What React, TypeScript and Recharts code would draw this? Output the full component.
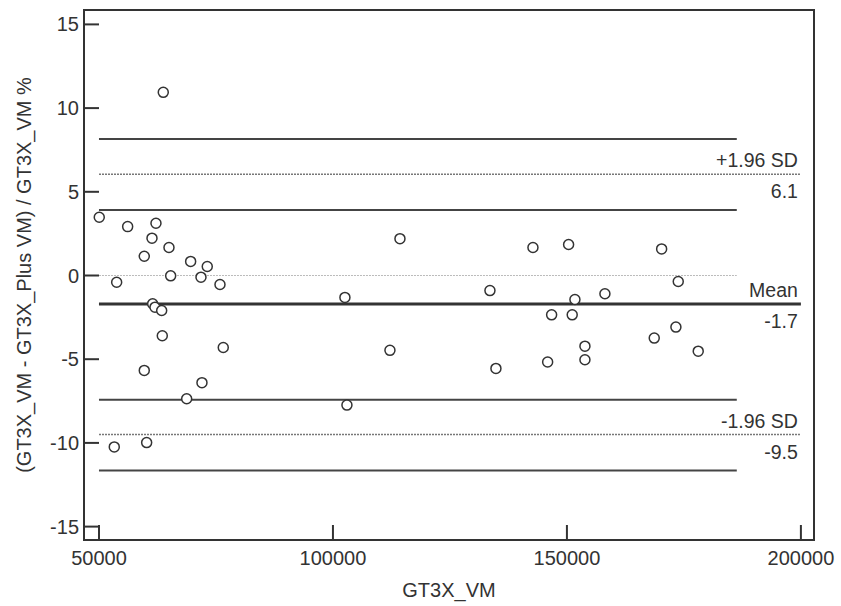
import React from 'react';
import { ScatterChart, Scatter, XAxis, YAxis, ReferenceLine, ReferenceArea } from 'recharts';

// mean of the two devices (GT3X_VM) vs. percent difference
const gt3xVm = [
  50060, 53780, 56130, 63740, 62180, 61330, 59680, 64960, 65320, 69590, 71800,
  73140, 75860, 61470, 61970, 63400, 63530, 76560, 59680, 72010, 68740, 53270,
  60190, 102560, 102990, 114320, 112180, 133550, 134830, 142740, 150360, 151710,
  146730, 151130, 153850, 153850, 145880, 158120, 170240, 173790, 168660, 173290,
  178060,
];
const pctDiff = [
  3.48, -0.4, 2.92, 10.94, 3.12, 2.23, 1.15, 1.67, -0.02, 0.84, -0.1, 0.54, -0.54,
  -1.69, -1.89, -2.09, -3.6, -4.3, -5.67, -6.4, -7.36, -10.24, -9.98, -1.31, -7.74,
  2.2, -4.47, -0.9, -5.55, 1.67, 1.85, -1.43, -2.35, -2.35, -4.22, -5.03, -5.17,
  -1.09, 1.59, -0.36, -3.74, -3.08, -4.52,
];

// limits of agreement and their confidence bands
const limitNames = ['+1.96 SD', 'Mean', '-1.96 SD'];
const limitValues = [6.05, -1.7, -9.5];
const limitLabels = ['6.1', '-1.7', '-9.5'];
const ciValues = [8.16, 3.92, -7.42, -11.65];

const xTicks = [50000, 100000, 150000, 200000];
const yTicks = [-15, -10, -5, 0, 5, 10, 15];
const xDomain = [46800, 202800];
const yDomain = [-15.8, 15.86];
const lineStart = 50000;
const lineEnd = 200000;
const ciEnd = 186300;

const points = gt3xVm.map((x, i) => ({ x, y: pctDiff[i] }));

const FONT = '"Liberation Sans", Arial, sans-serif';
const INK = '#333';

const pairLabel = (top: string, bottom: string) => (props: any) => {
  const vb = props.viewBox || {};
  const right = vb.x + vb.width - 3;
  const y = vb.y;
  return (
    <g fontFamily={FONT} fontSize={19.5} fill={INK}>
      <text x={right} y={y - 7} textAnchor="end">{top}</text>
      <text x={right} y={y + 24} textAnchor="end">{bottom}</text>
    </g>
  );
};

const Ring = (props: any) => (
  <circle cx={props.cx} cy={props.cy} r={5} fill="#fff" stroke={INK} strokeWidth={1.5} />
);

export default function App() {
  const tickStyle = { fontSize: 20, fill: INK, fontFamily: FONT };
  return (
    <div style={{ position: 'absolute', left: 0, top: 0, background: '#fff' }}>
      <ScatterChart width={841} height={606} margin={{ top: 10, right: 27, bottom: 0, left: 0 }}>
        <XAxis
          dataKey="x"
          type="number"
          domain={xDomain}
          ticks={xTicks}
          tickSize={-15}
          tickMargin={26}
          tick={tickStyle}
          height={66}
          stroke={INK}
          axisLine={{ stroke: INK, strokeWidth: 2 }}
          tickLine={{ stroke: INK, strokeWidth: 2 }}
          allowDataOverflow
          label={{ value: 'GT3X_VM', position: 'insideBottom', offset: 9, fontSize: 20, fill: INK, fontFamily: FONT }}
        />
        <YAxis
          dataKey="y"
          type="number"
          domain={yDomain}
          ticks={yTicks}
          tickSize={-15}
          tickMargin={20}
          tick={tickStyle}
          width={84}
          axisLine={{ stroke: INK, strokeWidth: 2 }}
          tickLine={{ stroke: INK, strokeWidth: 2 }}
          allowDataOverflow
          label={{
            value: '(GT3X_VM - GT3X_Plus VM) / GT3X_VM %',
            angle: -90,
            position: 'insideLeft',
            offset: 24,
            fontSize: 20,
            fill: INK,
            fontFamily: FONT,
            style: { textAnchor: 'middle' },
          }}
        />
        {/* plot frame (top and right edges) */}
        <ReferenceArea
          x1={xDomain[0]}
          x2={xDomain[1]}
          y1={yDomain[0]}
          y2={yDomain[1]}
          fill="none"
          fillOpacity={0}
          stroke={INK}
          strokeWidth={2}
          ifOverflow="visible"
        />
        <ReferenceLine
          segment={[{ x: lineStart, y: 0 }, { x: ciEnd, y: 0 }]}
          stroke="#bbb"
          strokeWidth={1}
          strokeDasharray="2 1"
        />
        {ciValues.map((v) => (
          <ReferenceLine
            key={'ci' + v}
            segment={[{ x: lineStart, y: v }, { x: ciEnd, y: v }]}
            stroke="#444"
            strokeWidth={2}
          />
        ))}
        {limitValues.map((v, i) => (
          <ReferenceLine
            key={'lim' + i}
            segment={[{ x: lineStart, y: v }, { x: lineEnd, y: v }]}
            stroke={i === 1 ? '#333' : '#777'}
            strokeWidth={i === 1 ? 3 : 1.5}
            strokeDasharray={i === 1 ? undefined : '2 1'}
            label={pairLabel(limitNames[i], limitLabels[i])}
          />
        ))}
        <Scatter data={points} shape={Ring} isAnimationActive={false} />
      </ScatterChart>
    </div>
  );
}
